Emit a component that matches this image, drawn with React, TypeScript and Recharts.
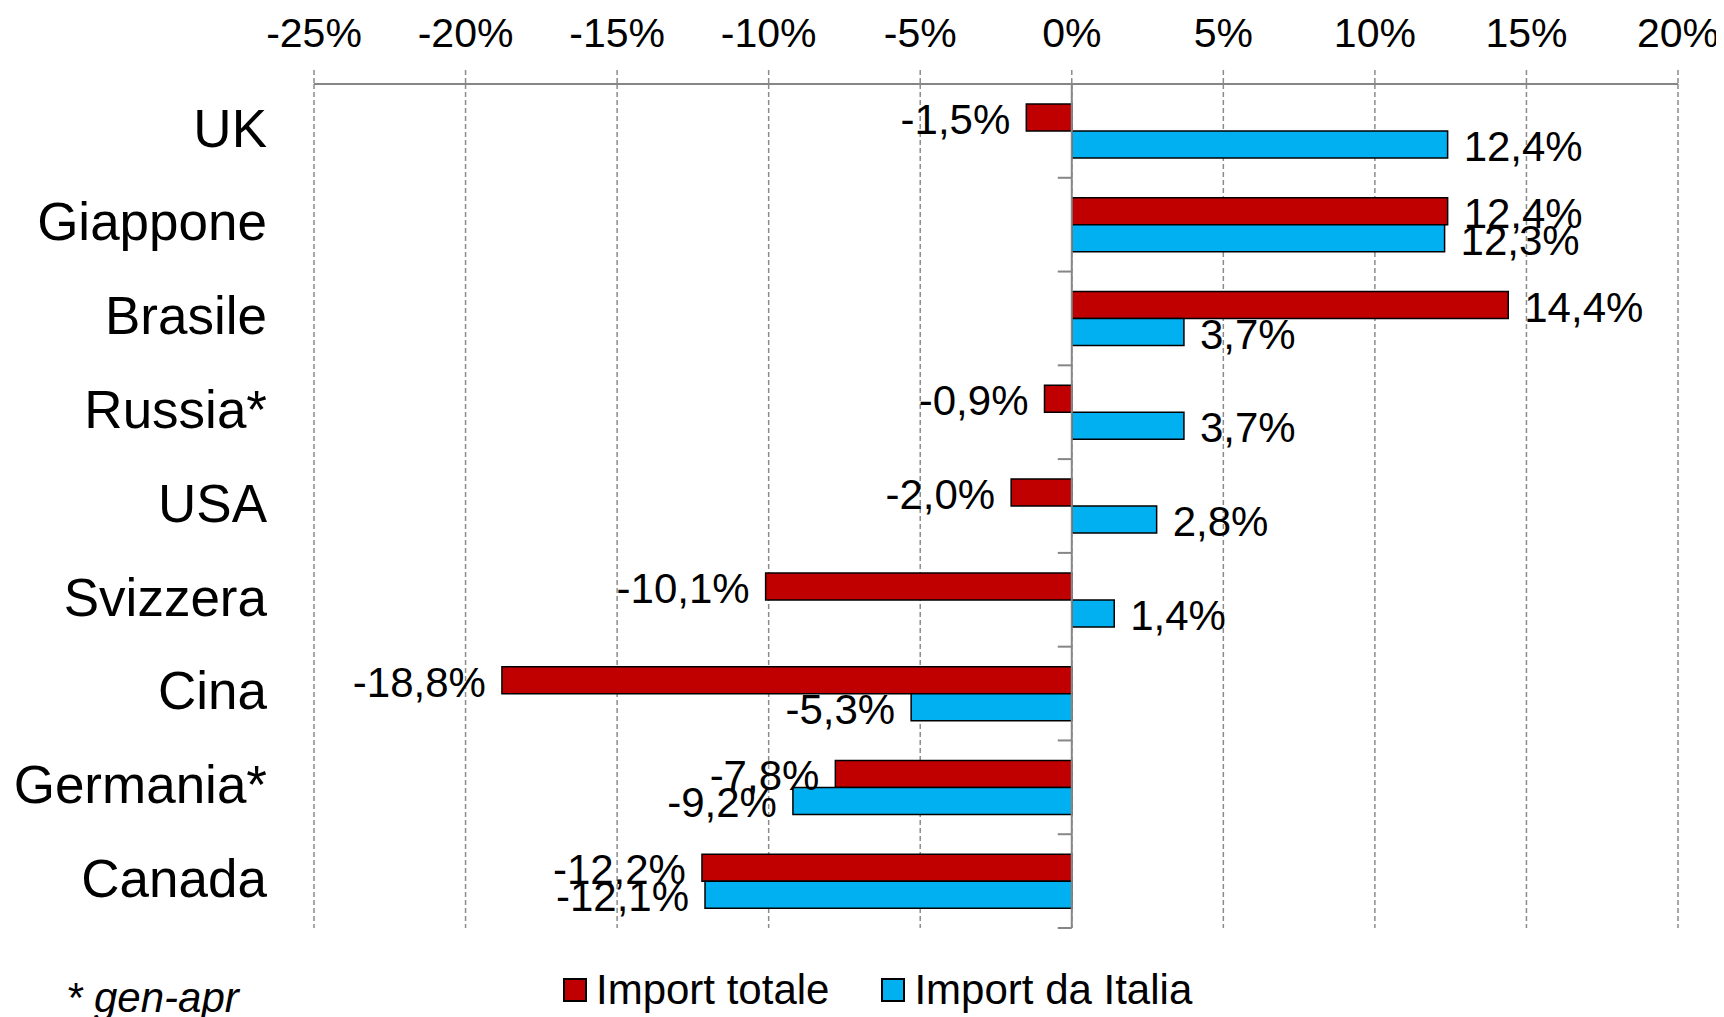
import React from "react";
import {
  BarChart,
  Bar,
  XAxis,
  YAxis,
  CartesianGrid,
  ReferenceLine,
  LabelList,
} from "recharts";

const categories = [
  "UK",
  "Giappone",
  "Brasile",
  "Russia*",
  "USA",
  "Svizzera",
  "Cina",
  "Germania*",
  "Canada",
];
const importTotale = [-1.5, 12.4, 14.4, -0.9, -2.0, -10.1, -18.8, -7.8, -12.2];
const importItalia = [12.4, 12.3, 3.7, 3.7, 2.8, 1.4, -5.3, -9.2, -12.1];
const xTicks = [-25, -20, -15, -10, -5, 0, 5, 10, 15, 20];
const seriesNames = ["Import totale", "Import da Italia"];
const seriesColors = ["#C00000", "#00B0F0"];
const footnote = "* gen-apr";

const data = categories.map((name, i) => ({
  name,
  totale: importTotale[i],
  italia: importItalia[i],
}));

const FONT = "Arial, 'Liberation Sans', sans-serif";
const fmt = (v: number) => `${v.toFixed(1).replace(".", ",")}%`;

function renderValueLabel(props: any) {
  const { x, y, width, height, value } = props;
  const v = Number(value);
  const left = Math.min(x, x + width);
  const right = Math.max(x, x + width);
  const tx = v >= 0 ? right + 16 : left - 16;
  return (
    <text
      x={tx}
      y={y + height / 2 + 2}
      textAnchor={v >= 0 ? "start" : "end"}
      dominantBaseline="central"
      fontFamily={FONT}
      fontSize={42}
      fill="#000"
    >
      {fmt(v)}
    </text>
  );
}

// solid zero line with the small category separators
function ZeroAxis(props: any) {
  const { x1, y1, y2 } = props;
  const top = Math.min(y1, y2);
  const bottom = Math.max(y1, y2);
  const step = (bottom - top) / categories.length;
  return (
    <g>
      <line x1={x1} x2={x1} y1={top} y2={bottom} stroke="#868686" strokeWidth={2} />
      {categories.concat([""]).map((_, i) => (
        <line
          key={i}
          x1={x1 - 14}
          x2={x1}
          y1={top + i * step}
          y2={top + i * step}
          stroke="#868686"
          strokeWidth={2}
        />
      ))}
    </g>
  );
}

export default function App() {
  return (
    <div style={{ position: "relative", width: 1716, height: 1009, fontFamily: FONT }}>
      <BarChart
        width={1716}
        height={1009}
        data={data}
        layout="vertical"
        margin={{ top: 0, right: 46, left: 0, bottom: 89 }}
        barGap={0}
        barSize={27}
      >
        <CartesianGrid
          horizontal={false}
          stroke="#8c8c8c"
          strokeDasharray="5 3"
          strokeWidth={1.5}
        />
        <XAxis
          type="number"
          orientation="top"
          domain={[-25, 20]}
          ticks={xTicks}
          tickFormatter={(v) => `${v}%`}
          height={76}
          tickSize={14}
          tickMargin={23}
          axisLine={{ stroke: "#868686", strokeWidth: 2 }}
          tickLine={{ stroke: "#8c8c8c", strokeDasharray: "5 3", strokeWidth: 1.5 }}
          tick={{ fill: "#000", fontSize: 41, fontFamily: FONT }}
          interval={0}
        />
        <YAxis
          type="category"
          dataKey="name"
          width={306}
          axisLine={false}
          tickLine={false}
          tickSize={0}
          tickMargin={47}
          tick={{ fill: "#000", fontSize: 53, fontFamily: FONT, dy: -3 }}
          interval={0}
        />
        <ReferenceLine x={0} shape={ZeroAxis} />
        <Bar
          dataKey="totale"
          name={seriesNames[0]}
          fill={seriesColors[0]}
          stroke="#000"
          strokeWidth={1.5}
          isAnimationActive={false}
        >
          <LabelList dataKey="totale" content={renderValueLabel} />
        </Bar>
        <Bar
          dataKey="italia"
          name={seriesNames[1]}
          fill={seriesColors[1]}
          stroke="#000"
          strokeWidth={1.5}
          isAnimationActive={false}
        >
          <LabelList dataKey="italia" content={renderValueLabel} />
        </Bar>
      </BarChart>
      <div
        style={{
          position: "absolute",
          left: 555,
          top: 958,
          display: "flex",
          alignItems: "center",
          fontSize: 42,
          color: "#000",
          whiteSpace: "nowrap",
        }}
      >
        {seriesNames.map((n, i) => (
          <div key={n} style={{ display: "flex", alignItems: "center", marginRight: i === 0 ? 52 : 0 }}>
            <span
              style={{
                display: "inline-block",
                width: 20,
                height: 20,
                background: seriesColors[i],
                border: "2px solid #000",
                marginRight: 9,
              }}
            />
            <span>{n}</span>
          </div>
        ))}
      </div>
      <div
        style={{
          position: "absolute",
          left: 58,
          top: 966,
          fontSize: 42,
          fontStyle: "italic",
          color: "#000",
          whiteSpace: "nowrap",
        }}
      >
        {footnote}
      </div>
    </div>
  );
}
